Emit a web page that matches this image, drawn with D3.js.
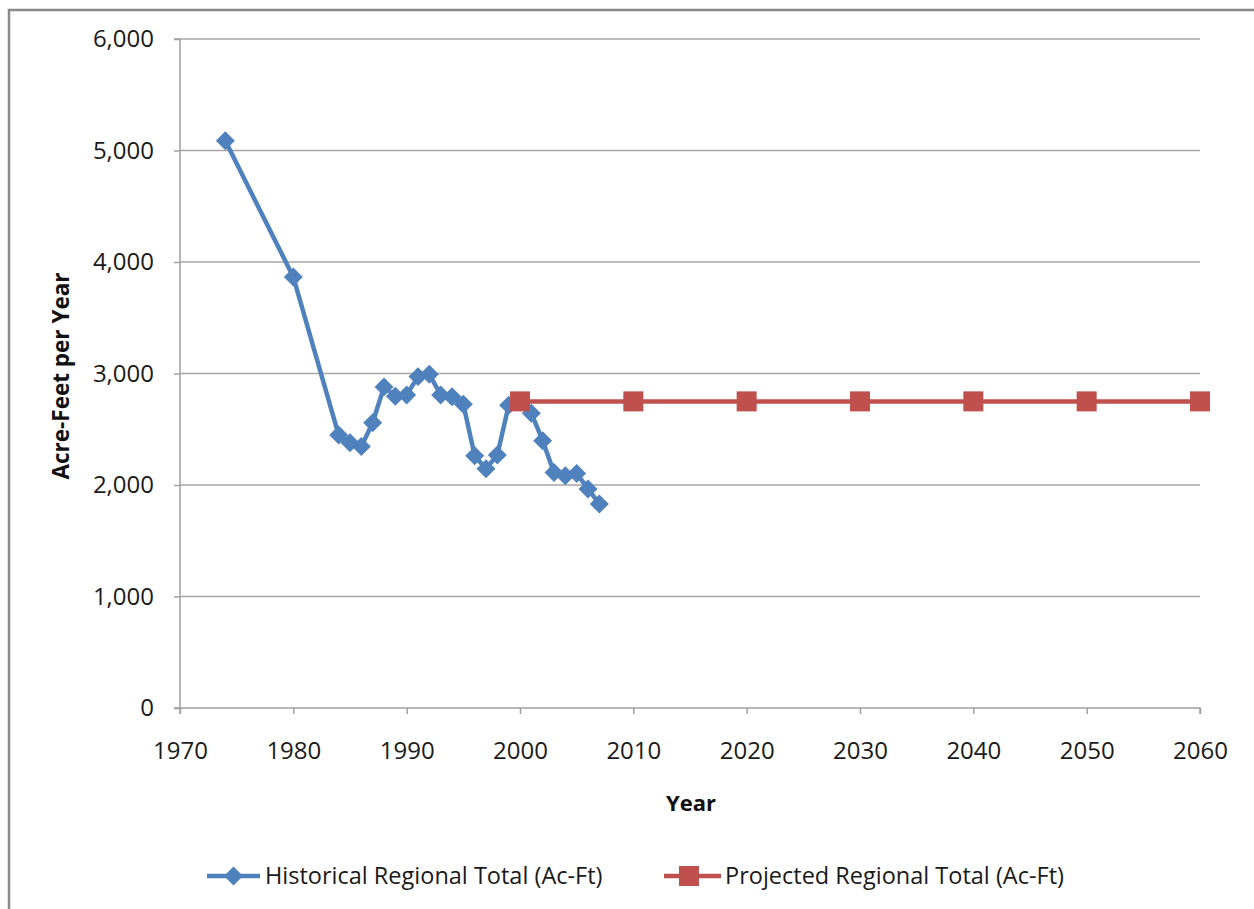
<!DOCTYPE html>
<html><head><meta charset="utf-8">
<script src="https://cdn.jsdelivr.net/npm/d3@7"></script>
<style>
html,body{margin:0;padding:0;background:#fff;}
svg{display:block;font-family:"Open Sans",sans-serif;}
</style></head>
<body>
<svg id="c" width="1254" height="909"></svg>
<script>
const histYears = [1974,1980,1984,1985,1986,1987,1988,1989,1990,1991,1992,1993,1994,1995,1996,1997,1998,1999,2000,2001,2002,2003,2004,2005,2006,2007];
const histValues = [5088,3865,2448,2378,2345,2558,2880,2795,2808,2972,2994,2808,2792,2725,2262,2146,2270,2715,2745,2644,2397,2112,2082,2104,1965,1830];
const projYears = [2000,2010,2020,2030,2040,2050,2060];
const projValues = [2750,2750,2750,2750,2750,2750,2750];
const xTicks = [1970,1980,1990,2000,2010,2020,2030,2040,2050,2060];
const yTicks = [0,1000,2000,3000,4000,5000,6000];
const seriesNames = ["Historical Regional Total (Ac-Ft)","Projected Regional Total (Ac-Ft)"];
const colors = ["#4F81BD","#C0504D"];

const svg = d3.select("#c");
const L=180,R=1200,T=39,B=708;
const x = d3.scaleLinear().domain([1970,2060]).range([L,R]);
const y = d3.scaleLinear().domain([0,6000]).range([B,T]);

// outer frame
svg.append("path").attr("d","M9,915 L9,10 L1260,10").attr("fill","none").attr("stroke","#8a8a8a").attr("stroke-width",2.5);

// gridlines
svg.append("g").selectAll("line").data(yTicks.filter(d=>d>0)).join("line")
  .attr("x1",L).attr("x2",R).attr("y1",d=>y(d)).attr("y2",d=>y(d))
  .attr("stroke","#a6a6a6").attr("stroke-width",1.5);

// y axis
const ya = svg.append("g").attr("transform",`translate(${L},0)`)
  .call(d3.axisLeft(y).tickValues(yTicks).tickSize(6).tickPadding(20).tickFormat(d3.format(",")));
ya.select(".domain").attr("stroke","#a0a0a0").attr("stroke-width",1.5).attr("d",`M-6,${T}H0V${B}H-6`);
ya.selectAll(".tick line").attr("stroke","#a0a0a0").attr("stroke-width",1.5);
ya.selectAll(".tick text").attr("font-size",24).attr("fill","#1a1a1a").attr("font-family","Open Sans");

// x axis
const xa = svg.append("g").attr("transform",`translate(0,${B})`)
  .call(d3.axisBottom(x).tickValues(xTicks).tickSize(6).tickPadding(28).tickFormat(d3.format("d")));
xa.select(".domain").attr("stroke","#a0a0a0").attr("stroke-width",1.5).attr("d",`M${L},6V0H${R}V6`);
xa.selectAll(".tick line").attr("stroke","#a0a0a0").attr("stroke-width",1.5);
xa.selectAll(".tick text").attr("font-size",24).attr("fill","#1a1a1a").attr("font-family","Open Sans");

// axis titles
svg.append("text").attr("x",691).attr("y",811).attr("text-anchor","middle")
  .attr("font-size",22).attr("font-weight","bold").attr("fill","#111").text("Year");
svg.append("text").attr("transform","translate(69,376) rotate(-90)").attr("text-anchor","middle")
  .attr("font-size",22.5).attr("font-weight","bold").attr("fill","#111").text("Acre-Feet per Year");

const hist = histYears.map((d,i)=>({x:d,y:histValues[i]}));
const proj = projYears.map((d,i)=>({x:d,y:projValues[i]}));
const line = d3.line().x(d=>x(d.x)).y(d=>y(d.y));

svg.append("path").datum(hist).attr("d",line).attr("fill","none").attr("stroke",colors[0]).attr("stroke-width",4.5).attr("stroke-linejoin","round");
const dia = d3.symbol().type(d3.symbolSquare).size(180);
svg.append("g").selectAll("path").data(hist).join("path")
  .attr("d",dia).attr("transform",d=>`translate(${x(d.x)},${y(d.y)}) rotate(45)`)
  .attr("fill",colors[0]);

svg.append("path").datum(proj).attr("d",line).attr("fill","none").attr("stroke",colors[1]).attr("stroke-width",4.5);
svg.append("g").selectAll("rect").data(proj).join("rect")
  .attr("x",d=>x(d.x)-10).attr("y",d=>y(d.y)-10).attr("width",20).attr("height",20)
  .attr("fill",colors[1]);

// legend
const lg = svg.append("g");
const ly = 876;
lg.append("line").attr("x1",207).attr("x2",260).attr("y1",ly).attr("y2",ly).attr("stroke",colors[0]).attr("stroke-width",4.5);
lg.append("path").attr("d",dia).attr("transform",`translate(233.5,${ly}) rotate(45)`).attr("fill",colors[0]);
lg.append("text").attr("x",265).attr("y",ly+8).attr("font-size",23.5).attr("fill","#1a1a1a").text(seriesNames[0]);
lg.append("line").attr("x1",664).attr("x2",721).attr("y1",ly).attr("y2",ly).attr("stroke",colors[1]).attr("stroke-width",4.5);
lg.append("rect").attr("x",679).attr("y",ly-10).attr("width",20).attr("height",20).attr("fill",colors[1]);
lg.append("text").attr("x",725).attr("y",ly+8).attr("font-size",23.5).attr("fill","#1a1a1a").text(seriesNames[1]);
</script>
</body></html>
